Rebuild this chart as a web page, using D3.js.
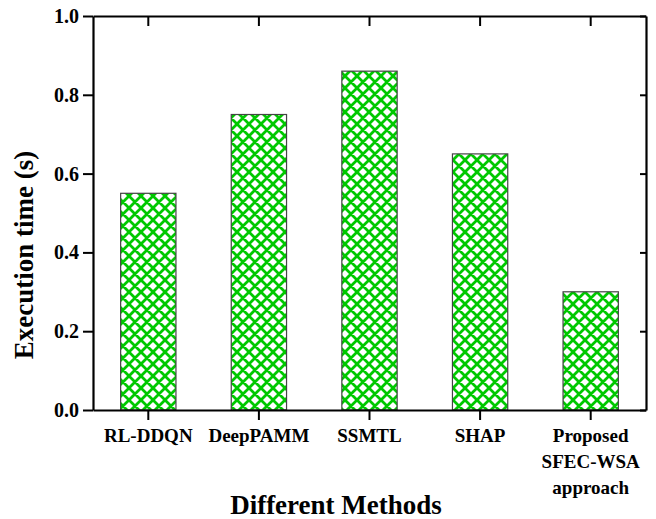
<!DOCTYPE html>
<html>
<head>
<meta charset="utf-8">
<script src="https://cdn.jsdelivr.net/npm/d3@7"></script>
<style>
  body { margin: 0; background: #fff; }
  svg text { font-family: "Liberation Serif", "Times New Roman", serif; font-weight: bold; }
</style>
</head>
<body>
<svg id="chart" width="656" height="519"></svg>
<script>
// Data
const methods = ["RL-DDQN", "DeepPAMM", "SSMTL", "SHAP", "Proposed SFEC-WSA approach"];
const methodLines = [["RL-DDQN"], ["DeepPAMM"], ["SSMTL"], ["SHAP"], ["Proposed", "SFEC-WSA", "approach"]];
const execTime = [0.55, 0.75, 0.86, 0.65, 0.30];
const yTicks = [0.0, 0.2, 0.4, 0.6, 0.8, 1.0];

const margin = { top: 16, right: 10, bottom: 109, left: 93 };
const width = 656 - margin.left - margin.right;
const height = 519 - margin.top - margin.bottom;

const svg = d3.select("#chart");

// crosshatch pattern
const defs = svg.append("defs");
const pat = defs.append("pattern")
    .attr("id", "hatch")
    .attr("patternUnits", "userSpaceOnUse")
    .attr("width", 12)
    .attr("height", 12);
pat.append("rect").attr("width", 12).attr("height", 12).attr("fill", "#fff");
pat.append("path")
    .attr("d", "M-3,-3L15,15M-3,15L15,-3M-3,9L3,15M9,-3L15,3M-3,3L3,-3M9,15L15,9")
    .attr("stroke", "#00c800")
    .attr("stroke-width", 2.8);

const g = svg.append("g").attr("transform", `translate(${margin.left},${margin.top})`);

const x = d3.scaleBand().domain(methods).range([0, width]).padding(0);
const y = d3.scaleLinear().domain([0, 1]).range([height, 0]);

const barW = x.bandwidth() * 0.5;

g.selectAll("rect.bar")
    .data(methods)
    .join("rect")
    .attr("class", "bar")
    .attr("x", d => x(d) + (x.bandwidth() - barW) / 2)
    .attr("y", (d, i) => y(execTime[i]))
    .attr("width", barW)
    .attr("height", (d, i) => height - y(execTime[i]))
    .attr("fill", "url(#hatch)")
    .attr("stroke", "#444")
    .attr("stroke-width", 1.2);

// left axis
const yAxis = g.append("g")
    .call(d3.axisLeft(y).tickValues(yTicks).tickFormat(d3.format(".1f")).tickSize(10).tickSizeOuter(0));
yAxis.selectAll("text").attr("font-size", 20).attr("fill", "#000").attr("dx", "-1");

// right axis (inward ticks)
g.append("g")
    .attr("transform", `translate(${width},0)`)
    .call(d3.axisLeft(y).tickValues(yTicks).tickFormat("").tickSize(6).tickSizeOuter(0));

// bottom axis
g.append("g")
    .attr("transform", `translate(0,${height})`)
    .call(d3.axisBottom(x).tickSize(10).tickSizeOuter(0).tickFormat(""));

// top axis (inward ticks)
g.append("g")
    .call(d3.axisBottom(x).tickSize(10).tickSizeOuter(0).tickFormat(""));

g.selectAll(".domain").attr("stroke", "#000").attr("stroke-width", 2.2);
g.selectAll(".tick line").attr("stroke", "#000").attr("stroke-width", 2);

// category labels
methods.forEach((m, i) => {
    const t = g.append("text")
        .attr("x", x(m) + x.bandwidth() / 2)
        .attr("y", height + 32)
        .attr("text-anchor", "middle")
        .attr("font-size", 19);
    methodLines[i].forEach((line, j) => {
        t.append("tspan")
            .attr("x", x(m) + x.bandwidth() / 2)
            .attr("dy", j === 0 ? 0 : 26)
            .text(line);
    });
});

// axis titles
svg.append("text")
    .attr("x", 336)
    .attr("y", 514)
    .attr("text-anchor", "middle")
    .attr("font-size", 27)
    .text("Different Methods");

svg.append("text")
    .attr("transform", `translate(33,${margin.top + height / 2 + 42}) rotate(-90)`)
    .attr("text-anchor", "middle")
    .attr("font-size", 27)
    .text("Execution time (s)");
</script>
</body>
</html>
